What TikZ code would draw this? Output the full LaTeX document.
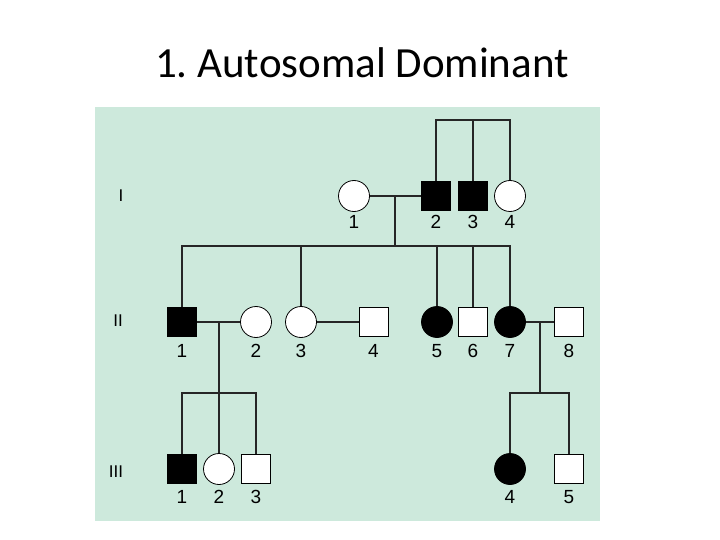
\documentclass[tikz,border=0pt]{standalone}
\usepackage{fontspec}
\setmainfont{Liberation Sans}
\newfontfamily\titlefont{Carlito}
\usetikzlibrary{backgrounds}
\definecolor{panel}{RGB}{205,233,220}
\frenchspacing
\begin{document}
\begin{tikzpicture}
    [
      x=1pt,
      y=-1pt,
      male/.style={rectangle,minimum size=29pt,inner sep=0pt,draw=black,line width=0.8pt,fill=white},
      female/.style={male,circle,minimum size=31pt},
      ill/.style={fill=black},
      num/.style={font=\fontsize{19}{19}\selectfont,inner sep=0pt,anchor=base},
      gen/.style={font=\fontsize{17}{17}\selectfont,inner sep=0pt},
      link/.style={draw=black!85,line width=1.2pt},
    ]
    \useasboundingbox (0,0) rectangle (720,540);
    \node at (362,78) [anchor=base,font=\titlefont\fontsize{43}{43}\selectfont] (title) {1. Autosomal Dominant};

    \node at (121,196) [gen] (g1) {I};
    \node at (118,321) [gen] (g2) {II};
    \node at (116,472) [gen] (g3) {III};

    \coordinate (s1) at (473,120);
    \coordinate (m1) at (395,196);
    \coordinate (s2) at (395,246);
    \coordinate (m2) at (219,322);
    \coordinate (s3) at (219,393);
    \coordinate (m3) at (540,322);
    \coordinate (s4) at (540,393);

    \draw[link] (m1) -- (s2);
    \draw[link] (m2) -- (219,469);
    \draw[link] (m3) -- (s4);

    \node at (354,196) [female] (a1) {};
    \node at (436,196) [male, ill] (a2) {};
    \node at (473,196) [male, ill] (a3) {};
    \node at (510,196) [female] (a4) {};
    \node at (354,229) [num] (na1) {1};
    \node at (436,229) [num] (na2) {2};
    \node at (473,229) [num] (na3) {3};
    \node at (510,229) [num] (na4) {4};

    \draw[link] (a2.north) |- (s1) -| (a4.north);
    \draw[link] (a3.north) -- (a3 |- s1);
    \draw[link] (a1.east) -- (a2.west);

    \node at (182,322) [male, ill] (b1) {};
    \node at (256,322) [female] (b2) {};
    \node at (301,322) [female] (b3) {};
    \node at (373.5,322) [male] (b4) {};
    \node at (437,322) [female, ill] (b5) {};
    \node at (473,322) [male] (b6) {};
    \node at (510,322) [female, ill] (b7) {};
    \node at (569,322) [male] (b8) {};
    \node at (182,357) [num] (nb1) {1};
    \node at (256,357) [num] (nb2) {2};
    \node at (301,357) [num] (nb3) {3};
    \node at (373.5,357) [num] (nb4) {4};
    \node at (437,357) [num] (nb5) {5};
    \node at (473,357) [num] (nb6) {6};
    \node at (510,357) [num] (nb7) {7};
    \node at (569,357) [num] (nb8) {8};

    \draw[link] (b1.north) |- (s2) -| (b7.north);
    \draw[link] (b3.north) -- (b3 |- s2);
    \draw[link] (b5.north) -- (b5 |- s2);
    \draw[link] (b6.north) -- (b6 |- s2);
    \draw[link] (b1.east) -- (b2.west);
    \draw[link] (b3.east) -- (b4.west);
    \draw[link] (b7.east) -- (b8.west);

    \node at (182,469) [male, ill] (c1) {};
    \node at (219,469) [female] (c2) {};
    \node at (256,469) [male] (c3) {};
    \node at (510,469) [female, ill] (c4) {};
    \node at (569,469) [male] (c5) {};
    \node at (182,503) [num] (nc1) {1};
    \node at (219,503) [num] (nc2) {2};
    \node at (256,503) [num] (nc3) {3};
    \node at (510,503) [num] (nc4) {4};
    \node at (569,503) [num] (nc5) {5};

    \draw[link] (c1.north) |- (s3) -| (c3.north);
    \draw[link] (c4.north) |- (s4) -| (c5.north);

    \begin{scope}[on background layer]
      \fill[panel] (95,107) rectangle (600,521);
    \end{scope}
  \end{tikzpicture}
\end{document}
